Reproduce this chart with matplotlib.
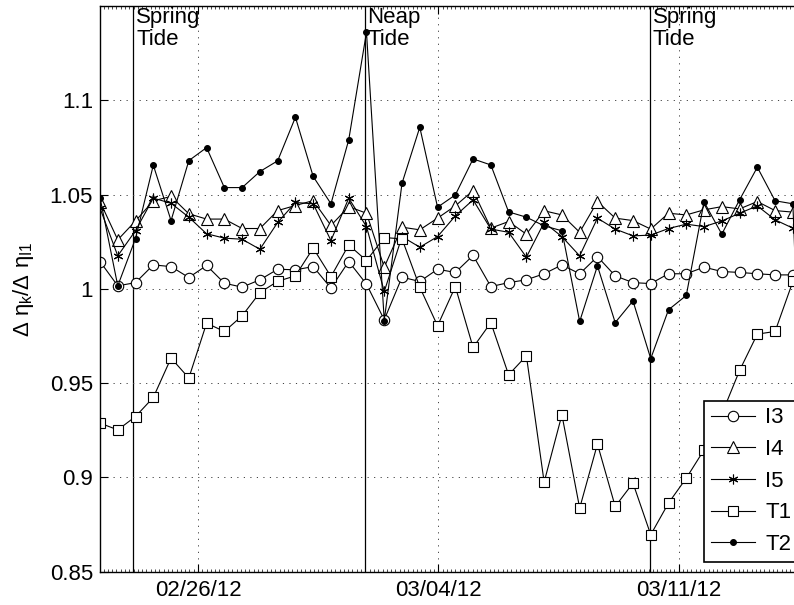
import datetime as dt
import matplotlib
matplotlib.use("Agg")
import matplotlib.pyplot as plt
import matplotlib.dates as mdates
from matplotlib.ticker import FuncFormatter, FixedLocator

plt.rcParams["font.family"] = ["Liberation Sans", "DejaVu Sans"]
plt.rcParams["mathtext.fontset"] = "custom"
plt.rcParams["mathtext.rm"] = "Liberation Sans"
plt.rcParams["mathtext.it"] = "Liberation Sans"
plt.rcParams["mathtext.bf"] = "Liberation Sans:bold"

# Sampling: one value per M2 tidal cycle (12.42 h) starting at t_start
t_start = dt.datetime(2012, 2, 23, 3, 30)
cycle_hours = 12.42

I3 = [1.0145, 1.0016, 1.0033, 1.0127, 1.0118, 1.0060, 1.0124, 1.0030, 1.0009, 1.0048,
      1.0104, 1.0101, 1.0118, 1.0004, 1.0145, 1.0025, 0.9836, 1.0062, 1.0039, 1.0104,
      1.0087, 1.0177, 1.0012, 1.0033, 1.0048, 1.0080, 1.0127, 1.0080, 1.0171, 1.0069,
      1.0033, 1.0028, 1.0080, 1.0080, 1.0115, 1.0092, 1.0087, 1.0080, 1.0074, 1.0074,
      1.0070]
I4 = [1.0463, 1.0260, 1.0360, 1.0467, 1.0490, 1.0398, 1.0370, 1.0370, 1.0320, 1.0320,
      1.0415, 1.0442, 1.0468, 1.0336, 1.0436, 1.0401, 1.0115, 1.0327, 1.0313, 1.0375,
      1.0440, 1.0521, 1.0322, 1.0357, 1.0290, 1.0414, 1.0392, 1.0300, 1.0463, 1.0375,
      1.0362, 1.0317, 1.0401, 1.0392, 1.0419, 1.0436, 1.0424, 1.0463, 1.0415, 1.0407,
      1.0380]
I5 = [1.0428, 1.0175, 1.0309, 1.0481, 1.0454, 1.0380, 1.0292, 1.0269, 1.0263, 1.0210,
      1.0352, 1.0458, 1.0451, 1.0256, 1.0481, 1.0330, 0.9986, 1.0277, 1.0221, 1.0277,
      1.0387, 1.0472, 1.0317, 1.0300, 1.0168, 1.0352, 1.0277, 1.0175, 1.0375, 1.0317,
      1.0281, 1.0285, 1.0320, 1.0343, 1.0330, 1.0360, 1.0401, 1.0440, 1.0366, 1.0322,
      1.0300]
T1 = [0.9288, 0.9252, 0.9323, 0.9424, 0.9633, 0.9527, 0.9818, 0.9774, 0.9857, 0.9980,
      1.0040, 1.0069, 1.0216, 1.0065, 1.0233, 1.0150, 1.0272, 1.0265, 1.0009, 0.9804,
      1.0012, 0.9689, 0.9821, 0.9544, 0.9645, 0.8975, 0.9332, 0.8837, 0.9177, 0.8846,
      0.8970, 0.8696, 0.8864, 0.8996, 0.9146, 0.9336, 0.9567, 0.9760, 0.9774, 1.0039,
      1.0300]
T2 = [1.0484, 1.0016, 1.0267, 1.0656, 1.0362, 1.0680, 1.0749, 1.0537, 1.0537, 1.0622,
      1.0679, 1.0910, 1.0596, 1.0451, 1.0790, 1.1361, 0.9832, 1.0560, 1.0857, 1.0433,
      1.0498, 1.0689, 1.0657, 1.0408, 1.0380, 1.0334, 1.0308, 0.9827, 1.0122, 0.9821,
      0.9936, 0.9630, 0.9889, 0.9965, 1.0461, 1.0290, 1.0472, 1.0645, 1.0467, 1.0451,
      0.8000]

series_names = ["I3", "I4", "I5", "T1", "T2"]
series_values = [I3, I4, I5, T1, T2]

# Spring / neap events
event_labels = ["Spring\nTide", "Neap\nTide", "Spring\nTide"]
event_times = [dt.datetime(2012, 2, 24, 2, 45),
               dt.datetime(2012, 3, 1, 20, 25),
               dt.datetime(2012, 3, 10, 4, 0)]

y_ticks = [0.85, 0.9, 0.95, 1.0, 1.05, 1.1]
x_ticks = [dt.datetime(2012, 2, 26), dt.datetime(2012, 3, 4), dt.datetime(2012, 3, 11)]

times = [t_start + dt.timedelta(hours=cycle_hours * i) for i in range(len(I3))]

styles = {
    "I3": dict(marker="o", ms=7.5, mfc="white", mec="black"),
    "I4": dict(marker="^", ms=8.5, mfc="white", mec="black"),
    "I5": dict(marker=(6, 2, 0), ms=7, mfc="black", mec="black"),
    "T1": dict(marker="s", ms=6.5, mfc="white", mec="black"),
    "T2": dict(marker="o", ms=4.2, mfc="black", mec="black"),
}

fig = plt.figure(figsize=(7.94, 6.05), dpi=100)
ax = fig.add_axes([100 / 794, 33.3 / 605, 712 / 794, 565.7 / 605])

for name, vals in zip(series_names, series_values):
    ax.plot(times, vals, color="black", lw=0.8, mew=0.8, label=name, **styles[name])

for t, lab in zip(event_times, event_labels):
    ax.axvline(t, color="black", lw=0.9, zorder=1)
    ax.annotate(lab, xy=(mdates.date2num(t), 1.0), xycoords=ax.get_xaxis_transform(),
                xytext=(3, -1), textcoords="offset pixels", ha="left", va="top",
                fontsize=16, linespacing=1.08)

ax.set_xlim(mdates.date2num(t_start), mdates.date2num(t_start) + 712 / 34.33)
ax.set_ylim(0.85, 1.15)

ax.xaxis.set_major_locator(FixedLocator(mdates.date2num(x_ticks)))
ax.xaxis.set_major_formatter(mdates.DateFormatter("%m/%d/%y"))
ax.xaxis.set_minor_locator(mdates.HourLocator(byhour=range(0, 24, 3)))
ax.yaxis.set_major_locator(FixedLocator(y_ticks))
ax.yaxis.set_major_formatter(FuncFormatter(lambda v, p: f"{v:g}"))

ax.tick_params(axis="both", which="major", direction="in", length=6, width=0.8,
               labelsize=16, top=True, right=True, pad=5)
ax.tick_params(axis="x", which="major", pad=6)
ax.tick_params(axis="x", which="minor", direction="in", length=2.5, width=0.5,
               top=True, bottom=True)
ax.tick_params(axis="y", which="minor", left=False, right=False)

ax.grid(True, which="major", color="0.25", lw=0.7, linestyle=(0, (1.2, 5.5)))
for s in ax.spines.values():
    s.set_linewidth(1.0)

ax.set_ylabel(r"$\Delta\ \eta_k/\Delta\ \eta_{I1}$", fontsize=16, labelpad=10)

leg = ax.legend(loc="lower left", bbox_to_anchor=((704 - 100) / 712, 10 / 565.7),
                borderaxespad=0, fontsize=16, frameon=True, fancybox=False,
                edgecolor="black", framealpha=1, handlelength=2.0,
                labelspacing=0.48, borderpad=0.3, handletextpad=0.45)
leg.get_frame().set_linewidth(1.2)

fig.savefig("out.png", dpi=100)
